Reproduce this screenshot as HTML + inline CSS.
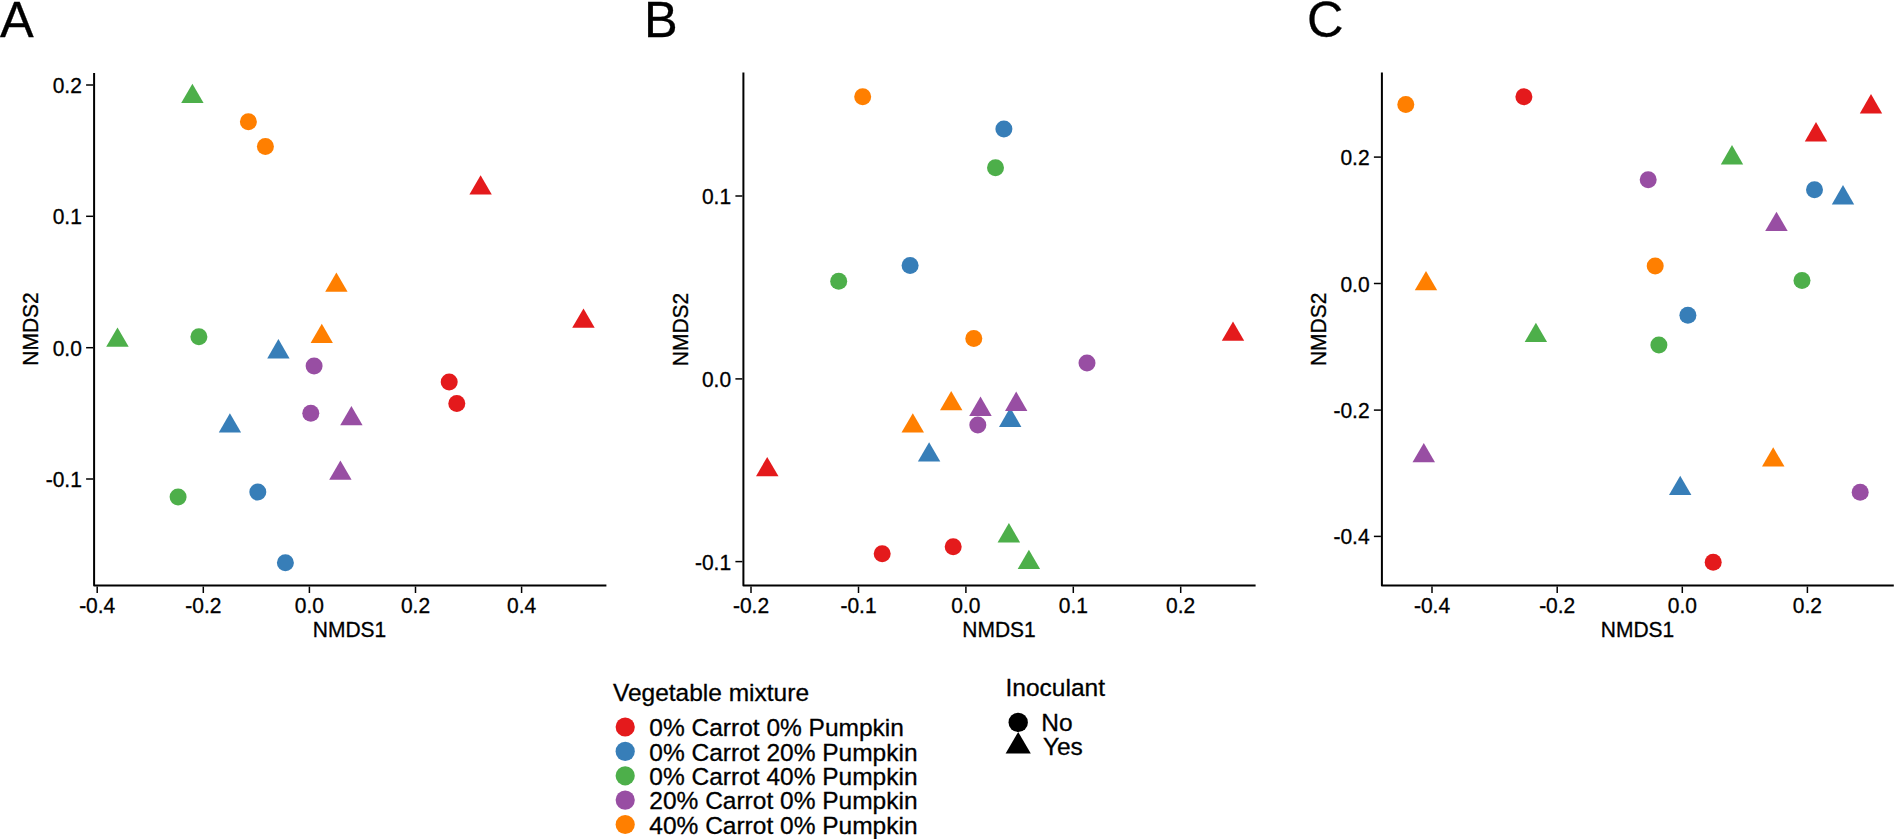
<!DOCTYPE html>
<html lang="en"><head><meta charset="utf-8"><title>NMDS ordination plots</title>
<style>
html,body{margin:0;padding:0;background:#fff;}
body{width:1895px;height:839px;overflow:hidden;}
svg{display:block;}
svg text{font-family:"Liberation Sans",Arial,Helvetica,sans-serif;fill:#000;stroke:#000;stroke-width:0.3px;}
</style></head><body>
<svg width="1895" height="839" viewBox="0 0 1895 839">
<rect width="1895" height="839" fill="#fff"/>
<path d="M94.1,73.0 V585.6 H606.4" fill="none" stroke="#000" stroke-width="2" stroke-linejoin="round"/>
<line x1="86.1" x2="93.1" y1="85.0" y2="85.0" stroke="#000" stroke-width="1.5"/>
<text transform="translate(81.8,93.0) scale(1,1.03)" font-size="21" text-anchor="end">0.2</text>
<line x1="86.1" x2="93.1" y1="216.3" y2="216.3" stroke="#000" stroke-width="1.5"/>
<text transform="translate(81.8,224.3) scale(1,1.03)" font-size="21" text-anchor="end">0.1</text>
<line x1="86.1" x2="93.1" y1="347.7" y2="347.7" stroke="#000" stroke-width="1.5"/>
<text transform="translate(81.8,355.7) scale(1,1.03)" font-size="21" text-anchor="end">0.0</text>
<line x1="86.1" x2="93.1" y1="479.0" y2="479.0" stroke="#000" stroke-width="1.5"/>
<text transform="translate(81.8,487.0) scale(1,1.03)" font-size="21" text-anchor="end">-0.1</text>
<line x1="97.2" x2="97.2" y1="586.6" y2="593.0" stroke="#000" stroke-width="1.5"/>
<text transform="translate(97.2,613.4) scale(1,1.03)" font-size="21" text-anchor="middle">-0.4</text>
<line x1="203.3" x2="203.3" y1="586.6" y2="593.0" stroke="#000" stroke-width="1.5"/>
<text transform="translate(203.3,613.4) scale(1,1.03)" font-size="21" text-anchor="middle">-0.2</text>
<line x1="309.4" x2="309.4" y1="586.6" y2="593.0" stroke="#000" stroke-width="1.5"/>
<text transform="translate(309.4,613.4) scale(1,1.03)" font-size="21" text-anchor="middle">0.0</text>
<line x1="415.5" x2="415.5" y1="586.6" y2="593.0" stroke="#000" stroke-width="1.5"/>
<text transform="translate(415.5,613.4) scale(1,1.03)" font-size="21" text-anchor="middle">0.2</text>
<line x1="521.6" x2="521.6" y1="586.6" y2="593.0" stroke="#000" stroke-width="1.5"/>
<text transform="translate(521.6,613.4) scale(1,1.03)" font-size="21" text-anchor="middle">0.4</text>
<text transform="translate(349.5,636.7) scale(1,1.035)" font-size="21" text-anchor="middle">NMDS1</text>
<text transform="translate(38.3,329.0) rotate(-90) scale(1,1.035)" font-size="21" text-anchor="middle">NMDS2</text>
<text transform="translate(0.0,37.3) scale(1,1.0)" font-size="50.5" text-anchor="start">A</text>
<circle cx="248.4" cy="121.8" r="8.5" fill="#FF7F00"/>
<circle cx="265.4" cy="146.6" r="8.5" fill="#FF7F00"/>
<circle cx="198.9" cy="336.7" r="8.5" fill="#4DAF4A"/>
<circle cx="178.1" cy="497.0" r="8.5" fill="#4DAF4A"/>
<circle cx="314.1" cy="366.1" r="8.5" fill="#984EA3"/>
<circle cx="310.8" cy="413.2" r="8.5" fill="#984EA3"/>
<circle cx="449.2" cy="382.1" r="8.5" fill="#E41A1C"/>
<circle cx="456.8" cy="403.5" r="8.5" fill="#E41A1C"/>
<circle cx="257.8" cy="492.0" r="8.5" fill="#377EB8"/>
<circle cx="285.4" cy="562.7" r="8.5" fill="#377EB8"/>
<polygon points="192.4,83.7 181.2,103.0 203.6,103.0" fill="#4DAF4A"/>
<polygon points="117.5,327.4 106.2,346.7 128.7,346.7" fill="#4DAF4A"/>
<polygon points="336.4,272.4 325.2,291.7 347.6,291.7" fill="#FF7F00"/>
<polygon points="321.8,323.7 310.6,343.0 332.9,343.0" fill="#FF7F00"/>
<polygon points="278.4,339.1 267.2,358.4 289.6,358.4" fill="#377EB8"/>
<polygon points="229.9,413.2 218.8,432.5 241.1,432.5" fill="#377EB8"/>
<polygon points="351.4,405.9 340.2,425.2 362.6,425.2" fill="#984EA3"/>
<polygon points="340.4,460.4 329.2,479.7 351.6,479.7" fill="#984EA3"/>
<polygon points="583.5,308.5 572.2,327.8 594.7,327.8" fill="#E41A1C"/>
<polygon points="480.6,175.3 469.4,194.6 491.8,194.6" fill="#E41A1C"/>
<path d="M743.4,72.4 V585.6 H1255.6" fill="none" stroke="#000" stroke-width="2" stroke-linejoin="round"/>
<line x1="735.4" x2="742.4" y1="196.0" y2="196.0" stroke="#000" stroke-width="1.5"/>
<text transform="translate(731.1,204.0) scale(1,1.03)" font-size="21" text-anchor="end">0.1</text>
<line x1="735.4" x2="742.4" y1="378.9" y2="378.9" stroke="#000" stroke-width="1.5"/>
<text transform="translate(731.1,386.9) scale(1,1.03)" font-size="21" text-anchor="end">0.0</text>
<line x1="735.4" x2="742.4" y1="561.6" y2="561.6" stroke="#000" stroke-width="1.5"/>
<text transform="translate(731.1,569.6) scale(1,1.03)" font-size="21" text-anchor="end">-0.1</text>
<line x1="751.0" x2="751.0" y1="586.6" y2="593.0" stroke="#000" stroke-width="1.5"/>
<text transform="translate(751.0,613.4) scale(1,1.03)" font-size="21" text-anchor="middle">-0.2</text>
<line x1="858.5" x2="858.5" y1="586.6" y2="593.0" stroke="#000" stroke-width="1.5"/>
<text transform="translate(858.5,613.4) scale(1,1.03)" font-size="21" text-anchor="middle">-0.1</text>
<line x1="965.9" x2="965.9" y1="586.6" y2="593.0" stroke="#000" stroke-width="1.5"/>
<text transform="translate(965.9,613.4) scale(1,1.03)" font-size="21" text-anchor="middle">0.0</text>
<line x1="1073.3" x2="1073.3" y1="586.6" y2="593.0" stroke="#000" stroke-width="1.5"/>
<text transform="translate(1073.3,613.4) scale(1,1.03)" font-size="21" text-anchor="middle">0.1</text>
<line x1="1180.7" x2="1180.7" y1="586.6" y2="593.0" stroke="#000" stroke-width="1.5"/>
<text transform="translate(1180.7,613.4) scale(1,1.03)" font-size="21" text-anchor="middle">0.2</text>
<text transform="translate(999.0,636.7) scale(1,1.035)" font-size="21" text-anchor="middle">NMDS1</text>
<text transform="translate(688.0,329.5) rotate(-90) scale(1,1.035)" font-size="21" text-anchor="middle">NMDS2</text>
<text transform="translate(644.0,37.3) scale(1,1.0)" font-size="50.5" text-anchor="start">B</text>
<circle cx="862.7" cy="96.7" r="8.5" fill="#FF7F00"/>
<circle cx="1003.9" cy="129.1" r="8.5" fill="#377EB8"/>
<circle cx="995.5" cy="167.8" r="8.5" fill="#4DAF4A"/>
<circle cx="910.1" cy="265.6" r="8.5" fill="#377EB8"/>
<circle cx="838.7" cy="281.3" r="8.5" fill="#4DAF4A"/>
<circle cx="973.8" cy="338.4" r="8.5" fill="#FF7F00"/>
<circle cx="1087.0" cy="363.1" r="8.5" fill="#984EA3"/>
<circle cx="977.8" cy="424.9" r="8.5" fill="#984EA3"/>
<circle cx="882.2" cy="553.7" r="8.5" fill="#E41A1C"/>
<circle cx="953.2" cy="546.7" r="8.5" fill="#E41A1C"/>
<polygon points="1233.0,321.5 1221.8,340.8 1244.2,340.8" fill="#E41A1C"/>
<polygon points="951.2,390.9 940.0,410.2 962.4,410.2" fill="#FF7F00"/>
<polygon points="912.8,413.2 901.5,432.5 924.0,432.5" fill="#FF7F00"/>
<polygon points="980.5,396.6 969.2,415.9 991.7,415.9" fill="#984EA3"/>
<polygon points="1010.2,407.6 999.0,426.9 1021.4,426.9" fill="#377EB8"/>
<polygon points="1016.2,391.6 1005.0,410.9 1027.4,410.9" fill="#984EA3"/>
<polygon points="929.1,442.3 917.9,461.6 940.3,461.6" fill="#377EB8"/>
<polygon points="767.2,456.9 756.0,476.2 778.5,476.2" fill="#E41A1C"/>
<polygon points="1008.9,523.1 997.6,542.4 1020.1,542.4" fill="#4DAF4A"/>
<polygon points="1028.9,549.7 1017.7,569.0 1040.1,569.0" fill="#4DAF4A"/>
<path d="M1381.9,72.4 V585.6 H1893.8" fill="none" stroke="#000" stroke-width="2" stroke-linejoin="round"/>
<line x1="1373.9" x2="1380.9" y1="157.1" y2="157.1" stroke="#000" stroke-width="1.5"/>
<text transform="translate(1369.6,165.1) scale(1,1.03)" font-size="21" text-anchor="end">0.2</text>
<line x1="1373.9" x2="1380.9" y1="283.5" y2="283.5" stroke="#000" stroke-width="1.5"/>
<text transform="translate(1369.6,291.5) scale(1,1.03)" font-size="21" text-anchor="end">0.0</text>
<line x1="1373.9" x2="1380.9" y1="410.1" y2="410.1" stroke="#000" stroke-width="1.5"/>
<text transform="translate(1369.6,418.1) scale(1,1.03)" font-size="21" text-anchor="end">-0.2</text>
<line x1="1373.9" x2="1380.9" y1="536.4" y2="536.4" stroke="#000" stroke-width="1.5"/>
<text transform="translate(1369.6,544.4) scale(1,1.03)" font-size="21" text-anchor="end">-0.4</text>
<line x1="1432.0" x2="1432.0" y1="586.6" y2="593.0" stroke="#000" stroke-width="1.5"/>
<text transform="translate(1432.0,613.4) scale(1,1.03)" font-size="21" text-anchor="middle">-0.4</text>
<line x1="1557.2" x2="1557.2" y1="586.6" y2="593.0" stroke="#000" stroke-width="1.5"/>
<text transform="translate(1557.2,613.4) scale(1,1.03)" font-size="21" text-anchor="middle">-0.2</text>
<line x1="1682.3" x2="1682.3" y1="586.6" y2="593.0" stroke="#000" stroke-width="1.5"/>
<text transform="translate(1682.3,613.4) scale(1,1.03)" font-size="21" text-anchor="middle">0.0</text>
<line x1="1807.4" x2="1807.4" y1="586.6" y2="593.0" stroke="#000" stroke-width="1.5"/>
<text transform="translate(1807.4,613.4) scale(1,1.03)" font-size="21" text-anchor="middle">0.2</text>
<text transform="translate(1637.5,636.7) scale(1,1.035)" font-size="21" text-anchor="middle">NMDS1</text>
<text transform="translate(1326.3,329.3) rotate(-90) scale(1,1.035)" font-size="21" text-anchor="middle">NMDS2</text>
<text transform="translate(1307.0,37.3) scale(1,1.0)" font-size="50.5" text-anchor="start">C</text>
<circle cx="1405.8" cy="104.5" r="8.5" fill="#FF7F00"/>
<circle cx="1523.9" cy="96.7" r="8.5" fill="#E41A1C"/>
<circle cx="1648.2" cy="179.7" r="8.5" fill="#984EA3"/>
<circle cx="1814.5" cy="189.7" r="8.5" fill="#377EB8"/>
<circle cx="1655.2" cy="266.0" r="8.5" fill="#FF7F00"/>
<circle cx="1802.0" cy="280.5" r="8.5" fill="#4DAF4A"/>
<circle cx="1687.9" cy="315.3" r="8.5" fill="#377EB8"/>
<circle cx="1658.9" cy="345.0" r="8.5" fill="#4DAF4A"/>
<circle cx="1860.2" cy="492.3" r="8.5" fill="#984EA3"/>
<circle cx="1713.2" cy="562.3" r="8.5" fill="#E41A1C"/>
<polygon points="1871.0,94.1 1859.8,113.4 1882.2,113.4" fill="#E41A1C"/>
<polygon points="1816.0,122.1 1804.8,141.4 1827.2,141.4" fill="#E41A1C"/>
<polygon points="1732.0,145.1 1720.8,164.4 1743.2,164.4" fill="#4DAF4A"/>
<polygon points="1843.0,185.1 1831.8,204.4 1854.2,204.4" fill="#377EB8"/>
<polygon points="1776.5,211.7 1765.2,231.0 1787.7,231.0" fill="#984EA3"/>
<polygon points="1426.0,270.9 1414.8,290.2 1437.2,290.2" fill="#FF7F00"/>
<polygon points="1535.9,322.7 1524.7,342.0 1547.1,342.0" fill="#4DAF4A"/>
<polygon points="1423.8,443.0 1412.5,462.3 1435.0,462.3" fill="#984EA3"/>
<polygon points="1773.2,447.3 1762.0,466.6 1784.5,466.6" fill="#FF7F00"/>
<polygon points="1680.2,475.7 1669.0,495.0 1691.4,495.0" fill="#377EB8"/>
<text transform="translate(612.9,701.2) scale(1,1.0)" font-size="24.5" text-anchor="start">Vegetable mixture</text>
<circle cx="625.2" cy="727.0" r="9.6" fill="#E41A1C"/>
<text transform="translate(649.3,736.2) scale(1,1.0)" font-size="24.5" text-anchor="start">0% Carrot 0% Pumpkin</text>
<circle cx="625.2" cy="751.4" r="9.6" fill="#377EB8"/>
<text transform="translate(649.3,760.6) scale(1,1.0)" font-size="24.5" text-anchor="start">0% Carrot 20% Pumpkin</text>
<circle cx="625.2" cy="775.8" r="9.6" fill="#4DAF4A"/>
<text transform="translate(649.3,785.0) scale(1,1.0)" font-size="24.5" text-anchor="start">0% Carrot 40% Pumpkin</text>
<circle cx="625.2" cy="800.1" r="9.6" fill="#984EA3"/>
<text transform="translate(649.3,809.3) scale(1,1.0)" font-size="24.5" text-anchor="start">20% Carrot 0% Pumpkin</text>
<circle cx="625.2" cy="824.5" r="9.6" fill="#FF7F00"/>
<text transform="translate(649.3,833.7) scale(1,1.0)" font-size="24.5" text-anchor="start">40% Carrot 0% Pumpkin</text>
<text transform="translate(1005.5,696.2) scale(1,1.0)" font-size="24.5" text-anchor="start">Inoculant</text>
<circle cx="1018.2" cy="722.4" r="9.7" fill="#000"/>
<polygon points="1018.2,732.0 1005.6,753.4 1030.8,753.4" fill="#000"/>
<text transform="translate(1041.3,730.6) scale(1,1.0)" font-size="24.5" text-anchor="start">No</text>
<text transform="translate(1042.9,755.0) scale(1,1.0)" font-size="24.5" text-anchor="start">Yes</text>
</svg>
</body></html>
